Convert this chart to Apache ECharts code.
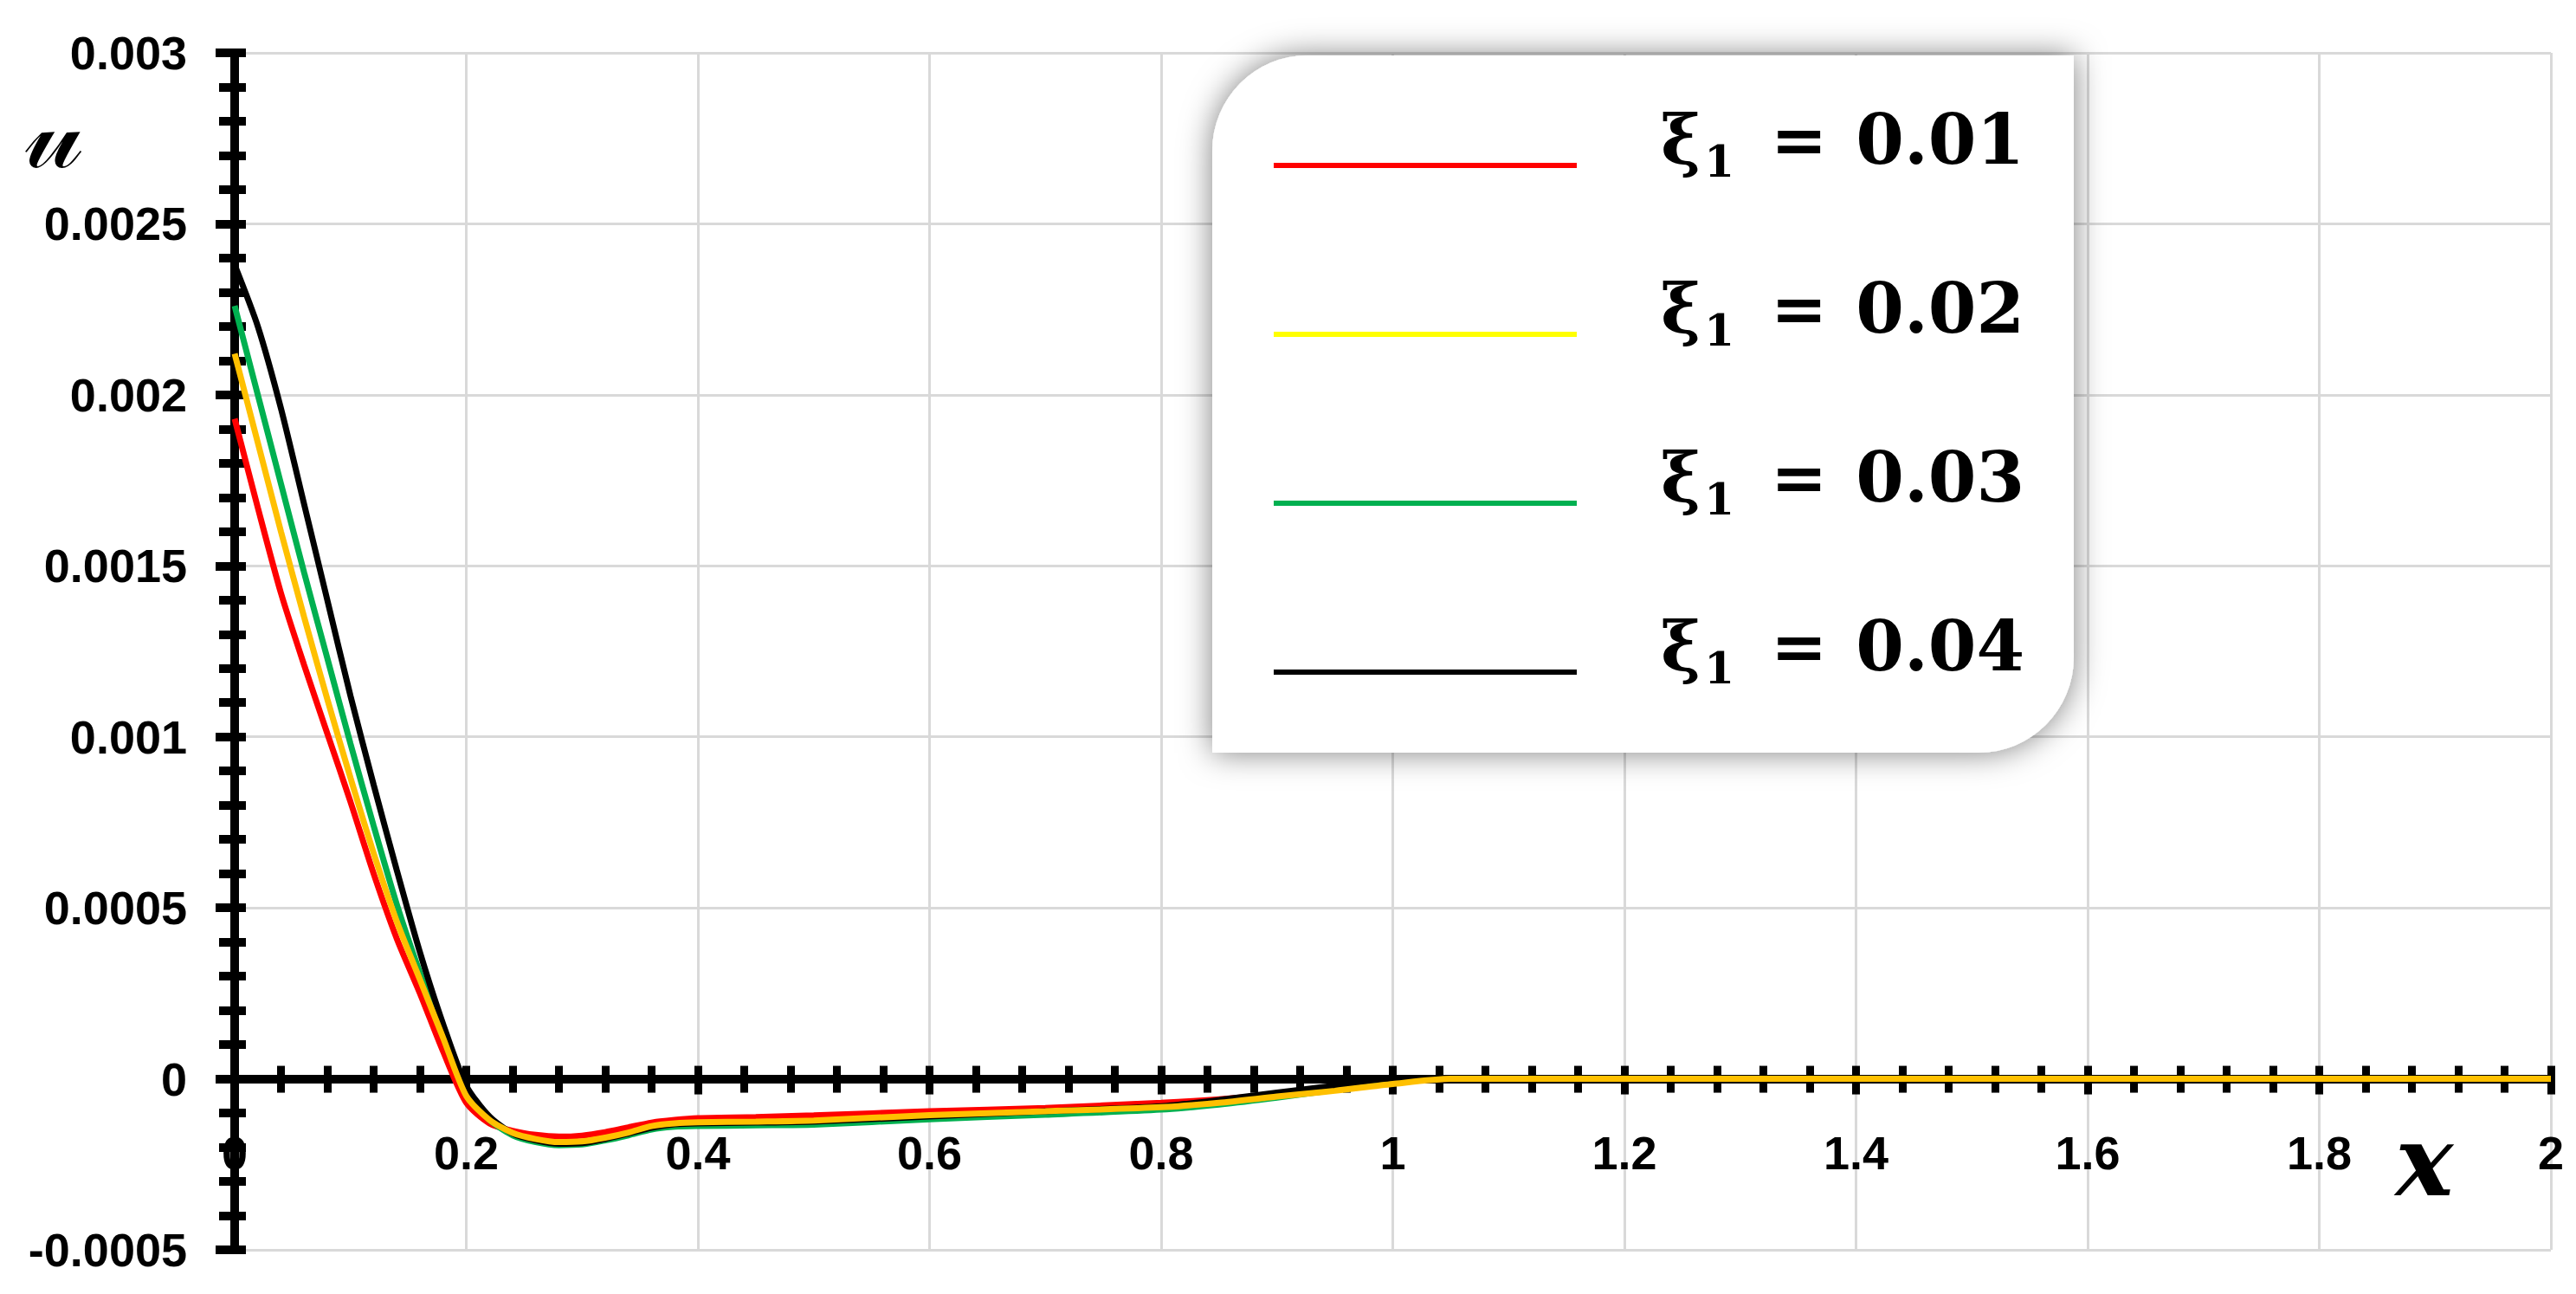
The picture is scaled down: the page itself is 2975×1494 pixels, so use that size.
<!DOCTYPE html>
<html>
<head>
<meta charset="utf-8">
<title>u(x) for several xi1</title>
<script src="https://cdn.jsdelivr.net/npm/echarts@6/dist/echarts.min.js"></script>
<style>
  html, body { margin: 0; padding: 0; background: #fff; }
  #chart { width: 2975px; height: 1494px; }
</style>
</head>
<body>
<div id="chart"></div>
<script>
// x positions the curves are sampled at
var xValues = [0, 0.02, 0.04, 0.06, 0.08, 0.1, 0.12, 0.14, 0.16, 0.18, 0.2, 0.22, 0.24, 0.26, 0.28, 0.3,
               0.32, 0.34, 0.36, 0.38, 0.4, 0.45, 0.5, 0.6, 0.7, 0.8, 0.85, 0.9, 0.95, 1.0, 1.05, 1.1, 1.5, 2.0];

// u values, one array per xi1
var uXi001 = [0.00193, 0.00167, 0.00142, 0.00121, 0.00101, 0.00081, 0.0006, 0.00041, 0.00025, 0.00008,
              -0.00007, -0.00013, -0.000152, -0.000164, -0.000169, -0.000166, -0.000156, -0.000142, -0.000128, -0.00012,
              -0.000115, -0.000112, -0.000107, -0.000095, -0.000085, -0.00007, -0.00006, -0.000045, -0.000025, -0.00001,
              0, 0, 0, 0];
var uXi002 = [0.00212, 0.00186, 0.0016, 0.00135, 0.00111, 0.00088, 0.00066, 0.00046, 0.00029, 0.00012,
              -0.00005, -0.00012, -0.000158, -0.000176, -0.000185, -0.000183, -0.000172, -0.000157, -0.000138, -0.00013,
              -0.000127, -0.000125, -0.000122, -0.000106, -0.000095, -0.000083, -0.00007, -0.000052, -0.000035, -0.000015,
              0, 0, 0, 0];
var uXi003 = [0.00226, 0.002, 0.00174, 0.00148, 0.00123, 0.00098, 0.00074, 0.00051, 0.00031, 0.00013,
              -0.00004, -0.00012, -0.000165, -0.000185, -0.000194, -0.000192, -0.00018, -0.000165, -0.000148, -0.00014,
              -0.000138, -0.000136, -0.000134, -0.000118, -0.000105, -0.00009, -0.000075, -0.000055, -0.000032, -0.00001,
              0, 0, 0, 0];
var uXi004 = [0.00238, 0.0022, 0.00196, 0.00168, 0.0014, 0.00112, 0.00086, 0.00061, 0.00037, 0.00016,
              -0.00002, -0.00011, -0.00016, -0.00018, -0.00019, -0.000188, -0.000176, -0.00016, -0.000143, -0.000133,
              -0.00013, -0.000128, -0.000125, -0.00011, -0.000095, -0.00008, -0.000062, -0.00004, -0.00002, 0,
              0, 0, 0, 0];

var xiLabels = ['0.01', '0.02', '0.03', '0.04'];
var seriesNames = ['ξ1 = 0.01', 'ξ1 = 0.02', 'ξ1 = 0.03', 'ξ1 = 0.04'];
var lineColors = ['#ff0000', '#ffc000', '#00b050', '#000000'];
var legendColors = ['#ff0000', '#ffff00', '#00b050', '#000000'];

function pairs(ys) {
    var out = [];
    for (var i = 0; i < xValues.length; i++) out.push([xValues[i], ys[i]]);
    return out;
}

var chart = echarts.init(document.getElementById('chart'), null, { renderer: 'svg' });

var tickFont = { fontFamily: 'Liberation Sans', fontWeight: 'bold', fontSize: 54, color: '#000' };
var allY = [uXi001, uXi002, uXi003, uXi004];
var zOrder = [2, 5, 3, 4];

var series = [];
for (var s = 0; s < 4; s++) {
    series.push({
        name: seriesNames[s],
        type: 'line',
        xAxisIndex: 0,
        yAxisIndex: 0,
        data: pairs(allY[s]),
        smooth: 0.25,
        showSymbol: false,
        z: zOrder[s],
        lineStyle: { color: lineColors[s], width: 7 },
        itemStyle: { color: lineColors[s] }
    });
}

// plot area; the second grid ends exactly at u = 0 and carries the x axis
var plotLeft = 271, plotRight = 29, plotTop = 61, plotBottom = 51;
var plotH = 1494 - plotTop - plotBottom;
var zeroBottom = 1494 - (plotTop + plotH * 0.003 / 0.0035);

var option = {
    backgroundColor: '#fff',
    animation: false,
    grid: [
        { left: plotLeft, right: plotRight, top: plotTop, bottom: plotBottom },
        { left: plotLeft, right: plotRight, top: plotTop, bottom: zeroBottom }
    ],
    xAxis: [{
        gridIndex: 0, type: 'value', min: 0, max: 2, interval: 0.2,
        axisLine: { show: false, onZero: false },
        axisTick: { show: false },
        axisLabel: { show: false },
        splitLine: { show: true, lineStyle: { color: '#d9d9d9', width: 3 } }
    }, {
        gridIndex: 1, type: 'value', min: 0, max: 2, interval: 0.2, position: 'bottom',
        axisLine: { show: true, onZero: false, lineStyle: { color: '#000', width: 10 } },
        axisTick: { show: true, length: 18, lineStyle: { color: '#000', width: 9 } },
        minorTick: { show: true, splitNumber: 5, length: 16, lineStyle: { color: '#000', width: 9 } },
        axisLabel: Object.assign({ margin: 58 }, tickFont),
        splitLine: { show: false }
    }, {
        gridIndex: 1, type: 'value', min: 0, max: 2, interval: 0.2, position: 'bottom', offset: 0,
        axisLine: { show: true, onZero: false, lineStyle: { color: '#000', width: 10 } },
        axisTick: { show: true, inside: true, length: 15, lineStyle: { color: '#000', width: 9 } },
        minorTick: { show: true, splitNumber: 5, length: 15, lineStyle: { color: '#000', width: 9 } },
        axisLabel: { show: false },
        splitLine: { show: false }
    }],
    yAxis: [{
        gridIndex: 0, type: 'value', min: -0.0005, max: 0.003, interval: 0.0005,
        axisLine: { show: true, onZero: false, lineStyle: { color: '#000', width: 10 } },
        axisTick: { show: true, length: 22, lineStyle: { color: '#000', width: 10 } },
        minorTick: { show: true, splitNumber: 5, length: 18, lineStyle: { color: '#000', width: 10 } },
        axisLabel: Object.assign({ margin: 55 }, tickFont),
        splitLine: { show: true, lineStyle: { color: '#d9d9d9', width: 3 } }
    }, {
        gridIndex: 0, type: 'value', min: -0.0005, max: 0.003, interval: 0.0005, position: 'left', offset: 0,
        axisLine: { show: true, onZero: false, lineStyle: { color: '#000', width: 10 } },
        axisTick: { show: true, inside: true, length: 13, lineStyle: { color: '#000', width: 10 } },
        minorTick: { show: true, splitNumber: 5, length: 13, lineStyle: { color: '#000', width: 10 } },
        axisLabel: { show: false },
        splitLine: { show: false }
    }, {
        gridIndex: 1, type: 'value', min: 0, max: 1, show: false
    }],
    legend: {
        z: 20,
        orient: 'vertical',
        left: 1466,
        top: 116,
        itemWidth: 350,
        itemHeight: 6,
        itemGap: 105,
        icon: 'rect',
        selectedMode: false,
        data: seriesNames.map(function (n, i) {
            return { name: n, itemStyle: { color: legendColors[i] } };
        }),
        formatter: function (name) {
            var k = seriesNames.indexOf(name);
            return '{xi|ξ}{sub|1}{eq|=}{num|' + xiLabels[k] + '}';
        },
        textStyle: {
            padding: [0, 0, 60, 92],
            rich: {
                xi: { fontFamily: 'DejaVu Serif', fontWeight: 'bold', fontSize: 78, lineHeight: 100, color: '#000' },
                sub: { fontFamily: 'DejaVu Serif', fontWeight: 'bold', fontSize: 50, lineHeight: 50, verticalAlign: 'bottom', color: '#000', padding: [0, 0, 0, 4] },
                eq: { fontFamily: 'DejaVu Serif', fontWeight: 'bold', fontSize: 78, lineHeight: 100, color: '#000', padding: [0, 33, 0, 42] },
                num: { fontFamily: 'DejaVu Serif', fontWeight: 'bold', fontSize: 80, lineHeight: 100, color: '#000' }
            }
        }
    },
    graphic: [{
        type: 'rect',
        z: 10,
        shape: { x: 1400, y: 64, width: 995, height: 805, r: [110, 0, 110, 0] },
        style: { fill: '#fff', shadowBlur: 36, shadowColor: 'rgba(0,0,0,0.5)', shadowOffsetX: 0, shadowOffsetY: 0 }
    }, {
        type: 'text',
        z: 10,
        x: 62, y: 152,
        style: { text: '𝓊', fontFamily: 'DejaVu Serif', fontSize: 118, fill: '#000', align: 'center', verticalAlign: 'middle' }
    }, {
        type: 'text',
        z: 10,
        x: 2800, y: 1340,
        style: { text: 'x', fontFamily: 'DejaVu Serif', fontStyle: 'italic', fontWeight: 'bold', fontSize: 112, fill: '#000', align: 'center', verticalAlign: 'middle' }
    }],
    series: series
};

option && chart.setOption(option);
</script>
</body>
</html>
